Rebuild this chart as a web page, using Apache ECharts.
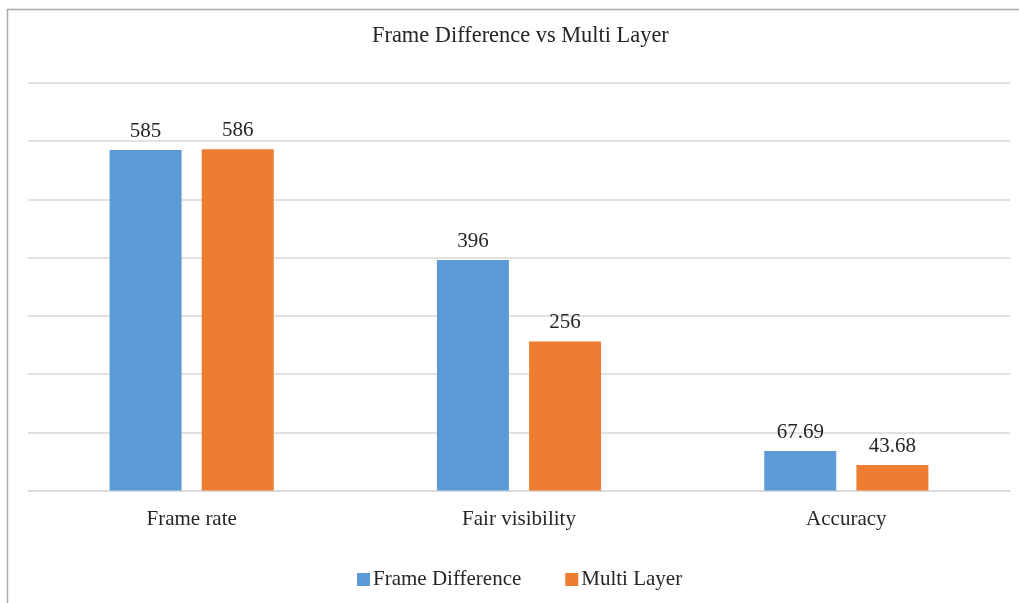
<!DOCTYPE html>
<html>
<head>
<meta charset="utf-8">
<title>Frame Difference vs Multi Layer</title>
<script src="https://cdn.jsdelivr.net/npm/echarts@6/dist/echarts.min.js"></script>
<style>
  html, body { margin: 0; padding: 0; background: #ffffff; }
  #chart { width: 1019px; height: 603px; }
</style>
</head>
<body>
<div id="chart"></div>
<script>
// Metrics compared between the two detection methods
const categories = ['Frame rate', 'Fair visibility', 'Accuracy'];
const frameDifference = [585, 396, 67.69];
const multiLayer = [586, 256, 43.68];
const seriesNames = ['Frame Difference', 'Multi Layer'];

const FONT = '"Liberation Serif", "Times New Roman", serif';
const TEXT = '#262626';

const chart = echarts.init(document.getElementById('chart'), null, { renderer: 'canvas' });

const barLabel = {
  show: true,
  position: 'top',
  distance: 8,
  fontFamily: FONT,
  fontSize: 21,
  color: TEXT
};

chart.setOption({
  backgroundColor: '#ffffff',
  animation: false,
  title: {
    text: 'Frame Difference vs Multi Layer',
    left: 367,
    top: 20,
    textStyle: { fontFamily: FONT, fontSize: 22.4, fontWeight: 'normal', color: TEXT }
  },
  graphic: [{
    type: 'rect',
    silent: true,
    shape: { x: 7.5, y: 9.5, width: 1200, height: 800 },
    style: { fill: 'none', stroke: '#ABABAB', lineWidth: 1.5 }
  }],
  legend: {
    data: seriesNames,
    bottom: 8,
    left: 352,
    itemWidth: 13,
    itemHeight: 13,
    itemGap: 44,
    icon: 'rect',
    textStyle: { fontFamily: FONT, fontSize: 21, color: TEXT, padding: [0, 0, 0, -2] }
  },
  grid: { left: 28, right: 9, top: 83, bottom: 112.5, containLabel: false },
  xAxis: {
    type: 'category',
    data: categories,
    axisLine: { show: true, lineStyle: { color: '#D9D9D9', width: 1.5 } },
    axisTick: { show: false },
    axisLabel: { margin: 18, fontFamily: FONT, fontSize: 21, color: TEXT }
  },
  yAxis: {
    type: 'value',
    min: 0,
    max: 700,
    interval: 100,
    axisLabel: { show: false },
    axisLine: { show: false },
    axisTick: { show: false },
    splitLine: { lineStyle: { color: '#D9D9D9', width: 1.5 } }
  },
  series: [
    {
      name: seriesNames[0],
      type: 'bar',
      data: frameDifference,
      barWidth: 72,
      barGap: '28%',
      itemStyle: { color: '#5B9BD5' },
      label: barLabel
    },
    {
      name: seriesNames[1],
      type: 'bar',
      data: multiLayer,
      barWidth: 72,
      itemStyle: { color: '#ED7D31' },
      label: barLabel
    }
  ]
});
</script>
</body>
</html>
